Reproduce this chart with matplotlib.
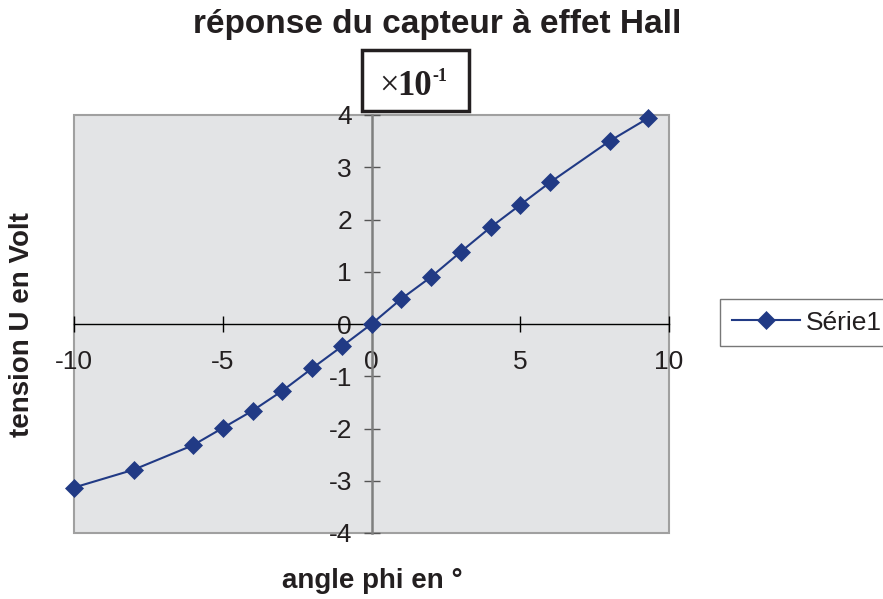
import matplotlib
matplotlib.use("Agg")
import matplotlib.pyplot as plt
from matplotlib.patches import Rectangle

# Hall sensor response: angle (deg) vs voltage (x 0.1 V)
angle = [-10, -8, -6, -5, -4, -3, -2, -1, 0, 1, 2, 3, 4, 5, 6, 8, 9.3]
tension = [-3.13, -2.79, -2.32, -1.99, -1.66, -1.28, -0.85, -0.43, 0.0,
           0.48, 0.90, 1.38, 1.85, 2.28, 2.71, 3.50, 3.94]
xticks = [-10, -5, 0, 5, 10]
yticks = [-4, -3, -2, -1, 0, 1, 2, 3, 4]

plt.rcParams['font.family'] = ['Liberation Sans', 'DejaVu Sans']
W, H = 883, 599
navy = '#213a85'
txt = '#231f20'

fig = plt.figure(figsize=(W / 100, H / 100), dpi=100, facecolor='white')
ax = fig.add_axes([74 / W, (H - 533) / H, 595 / W, 418 / H])
ax.set_facecolor('#e3e4e6')

ax.plot(angle, tension, color=navy, lw=1.5, marker='D', ms=9,
        mec=navy, mew=0.5, label='Série1', clip_on=False, zorder=5)

ax.set_xlim(-10, 10)
ax.set_ylim(-4, 4)
ax.set_xticks(xticks)
ax.set_yticks(yticks)
ax.set_xticklabels([str(v) for v in xticks])
ax.set_yticklabels([str(v) for v in yticks])

# axes crossing at the origin
ax.spines['left'].set_position(('data', 0))
ax.spines['bottom'].set_position(('data', 0))
ax.spines['left'].set_color('#7f7f7f')
ax.spines['left'].set_linewidth(1.8)
ax.spines['bottom'].set_color('black')
ax.spines['bottom'].set_linewidth(1.0)
for s in ('top', 'right'):
    ax.spines[s].set_visible(False)
ax.add_patch(Rectangle((0, 0), 1, 1, transform=ax.transAxes, fill=False,
                       ec='#a0a0a0', lw=1.5, clip_on=False, zorder=1))

ax.tick_params(axis='x', direction='inout', length=12, width=1,
               color='black', pad=13, labelsize=19, labelcolor=txt)
ax.tick_params(axis='y', direction='inout', length=12, width=1,
               color='#555555', pad=8, labelsize=19, labelcolor=txt)

fig.text(437 / W, 1 - 24 / H, 'réponse du capteur à effet Hall',
         ha='center', va='center', fontsize=24, fontweight='bold', color=txt)
fig.text(372 / W, 1 - 581 / H, 'angle phi en °', ha='center', va='center',
         fontsize=20, fontweight='bold', color=txt)
fig.text(22 / W, 1 - 325 / H, 'tension U en Volt', ha='center', va='center',
         rotation=90, fontsize=20, fontweight='bold', color=txt)

# scale factor box
fig.add_artist(Rectangle((362 / W, 1 - 111 / H), 107 / W, 61 / H,
                         transform=fig.transFigure, fill=False,
                         ec=txt, lw=2.5))
fig.text(379 / W, 1 - 95 / H, '×', ha='left', va='baseline',
         fontsize=25, family='Liberation Serif', color=txt)
fig.text(397 / W, 1 - 95 / H, '10', ha='left', va='baseline',
         fontsize=25, fontweight='bold', family='Liberation Serif', color=txt)
fig.text(432 / W, 1 - 81 / H, '-1', ha='left', va='baseline',
         fontsize=13, fontweight='bold', family='Liberation Serif', color=txt)

leg = ax.legend(loc='center left', bbox_to_anchor=(720 / W, 1 - 322.5 / H),
                bbox_transform=fig.transFigure, fontsize=19, frameon=True,
                fancybox=False, borderaxespad=0, borderpad=0.45,
                handlelength=2.6, handletextpad=0.2)
leg.get_frame().set_edgecolor('#555555')
leg.get_frame().set_linewidth(1.0)
for t in leg.get_texts():
    t.set_color(txt)

fig.savefig('out.png', dpi=100)
